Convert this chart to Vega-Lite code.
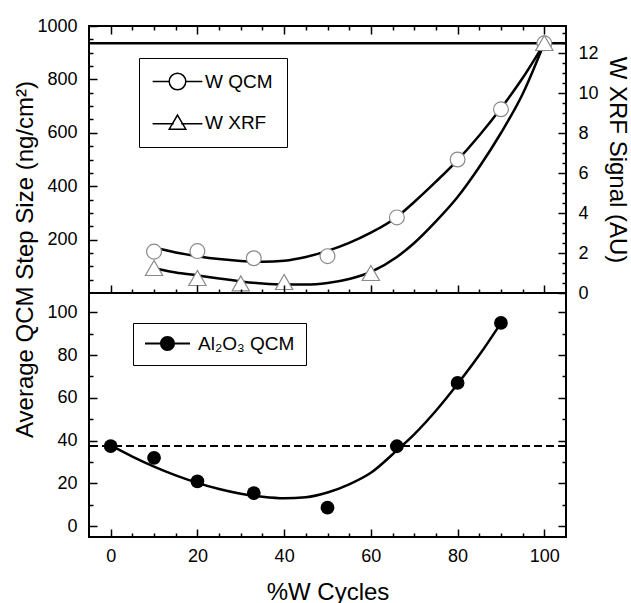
{
  "$schema": "https://vega.github.io/schema/vega-lite/v6.json",
  "padding": {"left": 11, "top": 16, "right": 2, "bottom": 2},
  "bounds": "flush",
  "spacing": 0,
  "config": {
    "font": "Liberation Sans",
    "view": {"stroke": "black", "strokeWidth": 2},
    "axis": {
      "domain": false, "grid": false, "ticks": true, "zindex": 1,
      "labelFont": "Liberation Sans", "labelFontSize": 18, "labelColor": "black",
      "tickColor": "black", "tickWidth": 1.5, "tickOpacity": 1,
      "titleFont": "Liberation Sans", "titleFontSize": 24, "titleFontWeight": "normal", "titleColor": "black",
      "format": "d"
    },
    "legend": {"labelFont": "Liberation Sans", "labelColor": "black"}
  },
  "datasets": {
    "hline": [{"y": 935}],
    "legend_top": [{"series": "W QCM"}, {"series": "W XRF"}],
    "legend_bot": [{"series": "Al₂O₃ QCM"}],
    "qcm_pts": [
      {"x": 10, "y": 155}, {"x": 20, "y": 157}, {"x": 33, "y": 130}, {"x": 50, "y": 138},
      {"x": 66, "y": 283}, {"x": 80, "y": 500}, {"x": 90, "y": 688}, {"x": 100, "y": 935}
    ],
    "qcm_fit": [
      {"x": 10, "y": 170}, {"x": 12, "y": 163}, {"x": 15, "y": 152}, {"x": 20, "y": 138},
      {"x": 25, "y": 127}, {"x": 30, "y": 120}, {"x": 35, "y": 117}, {"x": 40, "y": 121},
      {"x": 45, "y": 135}, {"x": 50, "y": 158}, {"x": 55, "y": 188}, {"x": 60, "y": 226},
      {"x": 66, "y": 285}, {"x": 70, "y": 341}, {"x": 75, "y": 417}, {"x": 80, "y": 498},
      {"x": 85, "y": 590}, {"x": 90, "y": 692}, {"x": 95, "y": 805}, {"x": 100, "y": 935}
    ],
    "xrf_pts": [
      {"x": 10, "y": 1.25}, {"x": 20, "y": 0.75}, {"x": 30, "y": 0.48}, {"x": 40, "y": 0.55},
      {"x": 60, "y": 1.0}, {"x": 100, "y": 12.5}
    ],
    "xrf_fit": [
      {"x": 10, "y": 1.25}, {"x": 12, "y": 1.15}, {"x": 15, "y": 1.02}, {"x": 20, "y": 0.88},
      {"x": 25, "y": 0.72}, {"x": 30, "y": 0.58}, {"x": 35, "y": 0.47}, {"x": 40, "y": 0.42},
      {"x": 45, "y": 0.42}, {"x": 50, "y": 0.5}, {"x": 55, "y": 0.7}, {"x": 60, "y": 1.05},
      {"x": 66, "y": 1.8}, {"x": 70, "y": 2.5}, {"x": 75, "y": 3.58}, {"x": 80, "y": 4.8},
      {"x": 85, "y": 6.3}, {"x": 90, "y": 8.0}, {"x": 95, "y": 9.95}, {"x": 100, "y": 12.5}
    ],
    "al_ref": [{"y": 37.5}],
    "al_pts": [
      {"x": 0, "y": 37.5}, {"x": 10, "y": 32}, {"x": 20, "y": 21}, {"x": 33, "y": 15.5},
      {"x": 50, "y": 8.7}, {"x": 66, "y": 37.4}, {"x": 80, "y": 67}, {"x": 90, "y": 95}
    ],
    "al_fit": [
      {"x": 0, "y": 37.8}, {"x": 5, "y": 32.6}, {"x": 10, "y": 27.9}, {"x": 15, "y": 23.8},
      {"x": 20, "y": 20.3}, {"x": 25, "y": 17.4}, {"x": 30, "y": 15.2}, {"x": 35, "y": 13.8},
      {"x": 40, "y": 13.1}, {"x": 45, "y": 13.6}, {"x": 50, "y": 15.8}, {"x": 55, "y": 19.6},
      {"x": 60, "y": 25}, {"x": 66, "y": 35.5}, {"x": 70, "y": 43}, {"x": 75, "y": 54},
      {"x": 80, "y": 66.5}, {"x": 85, "y": 80}, {"x": 90, "y": 95}
    ]
  },
  "vconcat": [
    {
      "width": 477, "height": 267,
      "layer": [
        {
          "encoding": {
            "y": {"field": "y", "type": "quantitative",
              "scale": {"domain": [0, 1000], "nice": false, "zero": false},
              "axis": {"orient": "left", "zindex": 1,
                "values": [50,100,150,200,250,300,350,400,450,500,550,600,650,700,750,800,850,900,950,1000],
                "labelExpr": "datum.value % 200 === 0 ? datum.label : ''",
                "tickSize": {"condition": {"test": "datum.value % 200 === 0", "value": -8}, "value": -4},
                "labelPadding": 20,
                "title": "Average QCM Step Size (ng/cm²)",
                "titleX": -64, "titleY": 233, "titleAngle": -90, "titleBaseline": "middle", "titleAlign": "center"}}
          },
          "layer": [
            {"data": {"name": "hline"}, "mark": {"type": "rule", "color": "black", "strokeWidth": 2.5}},
            {"data": {"name": "qcm_fit"}, "mark": {"type": "line", "color": "black", "strokeWidth": 2.5, "interpolate": "monotone"},
              "encoding": {"x": {"field": "x", "type": "quantitative", "scale": {"domain": [-5, 105], "nice": false, "zero": false},
                "axis": {"orient": "bottom", "zindex": 1, "values": [0,5,10,15,20,25,30,35,40,45,50,55,60,65,70,75,80,85,90,95,100], "labels": false, "title": null,
                  "tickSize": {"condition": {"test": "datum.value % 20 === 0", "value": -8}, "value": -4}}}}},
            {"data": {"name": "qcm_pts"}, "mark": {"type": "point", "filled": true, "fill": "white", "stroke": "#8a8a8a", "strokeWidth": 1.2, "size": 220, "opacity": 1},
              "encoding": {
                "x": {"field": "x", "type": "quantitative", "scale": {"domain": [-5, 105], "nice": false, "zero": false},
                  "axis": {"orient": "bottom", "zindex": 1, "values": [0,5,10,15,20,25,30,35,40,45,50,55,60,65,70,75,80,85,90,95,100], "labels": false, "title": null,
                    "tickSize": {"condition": {"test": "datum.value % 20 === 0", "value": -8}, "value": -4}}}
              }}
          ]
        },
        {
          "encoding": {
            "x": {"field": "x", "type": "quantitative", "scale": {"domain": [-5, 105], "nice": false, "zero": false},
              "axis": {"orient": "top", "zindex": 1, "values": [0,5,10,15,20,25,30,35,40,45,50,55,60,65,70,75,80,85,90,95,100], "labels": false, "title": null,
                "tickSize": {"condition": {"test": "datum.value % 20 === 0", "value": -8}, "value": -4}}},
            "y": {"field": "y", "type": "quantitative",
              "scale": {"domain": [0, 13.35], "nice": false, "zero": false},
              "axis": {"orient": "right", "zindex": 1,
                "values": [0,0.5,1,1.5,2,2.5,3,3.5,4,4.5,5,5.5,6,6.5,7,7.5,8,8.5,9,9.5,10,10.5,11,11.5,12,12.5,13],
                "labelExpr": "datum.value % 2 === 0 ? datum.label : ''",
                "tickSize": {"condition": {"test": "datum.value % 2 === 0", "value": -8}, "value": -4},
                "labelPadding": 20,
                "title": "W XRF Signal (AU)",
                "titleX": 50, "titleY": 133.5, "titleAngle": 90, "titleBaseline": "middle", "titleAlign": "center"}}
          },
          "layer": [
            {"data": {"name": "xrf_fit"}, "mark": {"type": "line", "color": "black", "strokeWidth": 2.5, "interpolate": "monotone"}},
            {"data": {"name": "xrf_pts"}, "mark": {"type": "point", "shape": "triangle-up", "filled": true, "fill": "white", "stroke": "#8a8a8a", "strokeWidth": 1.2, "size": 300, "opacity": 1}}
          ]
        },
        {
          "data": {"name": "legend_top"},
          "transform": [{"filter": "datum.series === 'none'"}],
          "mark": {"type": "point", "filled": false, "color": "black", "strokeWidth": 1.6, "opacity": 1},
          "encoding": {
            "shape": {"field": "series", "type": "nominal",
              "scale": {"domain": ["W QCM", "W XRF"], "range": ["M-3,0H-1M1,0H3M1,0A1,1,0,1,1,-1,0A1,1,0,1,1,1,0Z", "M-3,0.15H-0.45M0.45,0.15H3M0,-0.9L1,0.8L-1,0.8Z"]},
              "legend": {"orient": "none", "legendX": 50, "legendY": 32, "title": null,
                "padding": 14, "strokeColor": "black", "fillColor": "white",
                "labelFontSize": 19, "symbolSize": 275, "rowPadding": 19, "symbolOffset": 15, "labelOffset": 18}}
          }
        }
      ],
      "resolve": {"scale": {"y": "independent"}, "axis": {"x": "independent", "y": "independent"}}
    },
    {
      "width": 477, "height": 244,
      "layer": [
        {
          "data": {"name": "al_ref"},
          "mark": {"type": "rule", "color": "black", "strokeWidth": 2, "strokeDash": [8, 4]},
          "encoding": {"y": {"field": "y", "type": "quantitative",
            "scale": {"domain": [-5, 109], "nice": false, "zero": false},
            "axis": {"orient": "right", "zindex": 1, "values": [0,10,20,30,40,50,60,70,80,90,100], "labels": false, "title": null,
              "tickSize": {"condition": {"test": "datum.value % 20 === 0", "value": -8}, "value": -4}}}}
        },
        {
          "encoding": {
            "x": {"field": "x", "type": "quantitative", "scale": {"domain": [-5, 105], "nice": false, "zero": false},
              "axis": {"orient": "bottom", "zindex": 1, "values": [0,5,10,15,20,25,30,35,40,45,50,55,60,65,70,75,80,85,90,95,100],
                "labelExpr": "datum.value % 20 === 0 ? datum.label : ''",
                "tickSize": {"condition": {"test": "datum.value % 20 === 0", "value": -8}, "value": -4},
                "labelPadding": 18,
                "title": "%W Cycles", "titleY": 55, "titleBaseline": "middle"}},
            "y": {"field": "y", "type": "quantitative",
              "scale": {"domain": [-5, 109], "nice": false, "zero": false},
              "axis": {"orient": "left", "zindex": 1, "values": [0,10,20,30,40,50,60,70,80,90,100],
                "labelExpr": "datum.value % 20 === 0 ? datum.label : ''",
                "tickSize": {"condition": {"test": "datum.value % 20 === 0", "value": -8}, "value": -4},
                "labelPadding": 20, "title": null}}
          },
          "layer": [
            {"data": {"name": "al_fit"}, "mark": {"type": "line", "color": "black", "strokeWidth": 2.5, "interpolate": "monotone"}},
            {"data": {"name": "al_pts"}, "mark": {"type": "point", "filled": true, "color": "black", "size": 190, "opacity": 1}}
          ]
        },
        {
          "data": {"name": "legend_bot"},
          "transform": [{"filter": "datum.series === 'none'"}],
          "mark": {"type": "point", "filled": true, "color": "black", "opacity": 1},
          "encoding": {
            "shape": {"field": "series", "type": "nominal",
              "scale": {"domain": ["Al₂O₃ QCM"], "range": ["M-3,-0.13H-1V0.13H-3Z M1,-0.13H3V0.13H1Z M1,0A1,1,0,1,1,-1,0A1,1,0,1,1,1,0Z"]},
              "legend": {"orient": "none", "legendX": 44, "legendY": 30, "title": null,
                "padding": 11, "strokeColor": "black", "fillColor": "white",
                "labelFontSize": 19, "symbolSize": 225, "symbolOffset": 14, "labelOffset": 21}}
          }
        }
      ],
      "resolve": {"axis": {"y": "independent"}}
    }
  ],
  "resolve": {"scale": {"shape": "independent"}, "legend": {"shape": "independent"}}
}
